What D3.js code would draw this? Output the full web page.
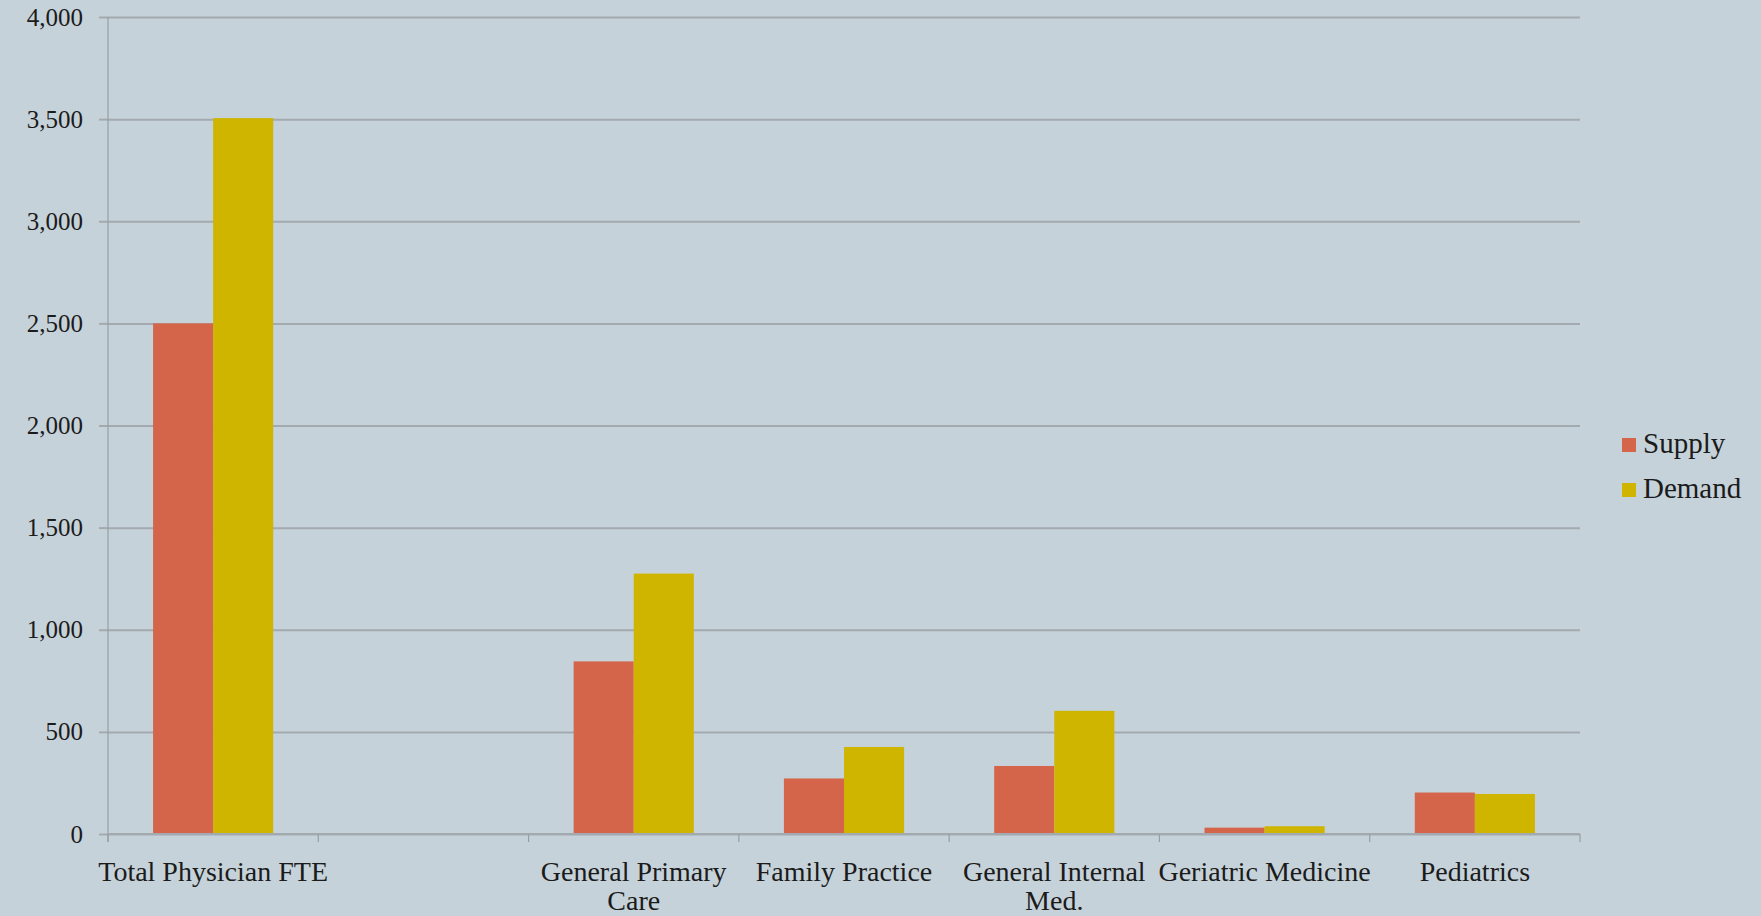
<!DOCTYPE html>
<html>
<head>
<meta charset="utf-8">
<script src="https://cdn.jsdelivr.net/npm/d3@7"></script>
<style>
  html, body { margin: 0; padding: 0; background: #C6D2D9; }
  svg { display: block; }
  text { font-family: "Liberation Serif", "Times New Roman", serif; fill: #1b1b1b; }
</style>
</head>
<body>
<svg id="chart" width="1761" height="916"></svg>
<script>
const categories = ["Total Physician FTE", "", "General Primary Care", "Family Practice", "General Internal Med.", "Geriatric Medicine", "Pediatrics"];
const labelLines = [["Total Physician FTE"], [""], ["General Primary", "Care"], ["Family Practice"], ["General Internal", "Med."], ["Geriatric Medicine"], ["Pediatrics"]];
const seriesNames = ["Supply", "Demand"];
const supply = [2500, 0, 845, 272, 333, 31, 203];
const demand = [3505, 0, 1275, 426, 603, 38, 196];
const yTicks = [0, 500, 1000, 1500, 2000, 2500, 3000, 3500, 4000];
const colors = ["#D4654A", "#CFB500"];

(function () {
const svg = d3.select("#chart");
const pLeft = 108, pRight = 1580, pTop = 17, pBottom = 834;

const x = d3.scaleBand().domain(categories).range([pLeft, pRight]).paddingInner(0).paddingOuter(0);
const xInner = d3.scaleBand().domain(seriesNames).range([0, x.bandwidth()]).paddingInner(0).paddingOuter(0.75);
const y = d3.scaleLinear().domain([0, 4000]).range([pBottom, pTop]);

// gridlines
const grid = svg.append("g").attr("transform", `translate(${pLeft},0)`)
  .call(d3.axisLeft(y).tickValues(yTicks).tickSize(-(pRight - pLeft)).tickFormat(""));
grid.select(".domain").remove();
grid.selectAll(".tick line").attr("stroke", "#A3AAAF").attr("stroke-width", 2);

// y axis
const yAxis = svg.append("g").attr("transform", `translate(${pLeft},0)`)
  .call(d3.axisLeft(y).tickValues(yTicks).tickSizeInner(9).tickSizeOuter(0).tickPadding(16).tickFormat(d3.format(",")));
yAxis.select(".domain").remove();
yAxis.selectAll(".tick line").attr("stroke", "#A3AAAF").attr("stroke-width", 2);
yAxis.selectAll(".tick text").attr("font-size", 25).attr("font-family", "Liberation Serif, serif").attr("fill", "#1b1b1b");
svg.append("line").attr("x1", pLeft).attr("x2", pLeft).attr("y1", pTop).attr("y2", pBottom + 8)
  .attr("stroke", "#979EA3").attr("stroke-width", 1.2);

// bars
const rows = categories.map((c, i) => ({c, vals: [supply[i], demand[i]]}));
const groups = svg.append("g").selectAll("g").data(rows).join("g")
  .attr("transform", d => `translate(${x(d.c)},0)`);
groups.selectAll("rect").data(d => d.vals.map((v, j) => ({name: seriesNames[j], v, j}))).join("rect")
  .attr("x", d => xInner(d.name))
  .attr("width", xInner.bandwidth())
  .attr("y", d => y(d.v))
  .attr("height", d => y(0) - y(d.v))
  .attr("fill", d => colors[d.j]);

// x axis baseline and ticks
svg.append("line").attr("x1", pLeft).attr("x2", pRight).attr("y1", pBottom).attr("y2", pBottom)
  .attr("stroke", "#A3AAAF").attr("stroke-width", 2);
const boundaries = categories.map(c => x(c)).concat([x(categories[categories.length - 1]) + x.bandwidth()]);
svg.append("g").selectAll("line").data(boundaries).join("line")
  .attr("x1", d => d).attr("x2", d => d).attr("y1", pBottom).attr("y2", pBottom + 8)
  .attr("stroke", "#979EA3").attr("stroke-width", 1.2);

// x labels
const xl = svg.append("g").selectAll("text").data(categories.map((c, i) => ({c, lines: labelLines[i]}))).join("text")
  .attr("x", d => x(d.c) + x.bandwidth() / 2)
  .attr("y", 881)
  .attr("text-anchor", "middle")
  .attr("font-size", 28);
xl.selectAll("tspan").data(d => d.lines.map(l => ({l, x: x(d.c) + x.bandwidth() / 2}))).join("tspan")
  .attr("x", d => d.x)
  .attr("dy", (d, i) => i === 0 ? 0 : 29)
  .text(d => d.l);

// legend
const legend = svg.append("g").attr("transform", "translate(1622,0)");
const ly = [453, 498];
seriesNames.forEach((n, i) => {
  legend.append("rect").attr("x", 0).attr("y", ly[i] - 15).attr("width", 14).attr("height", 14).attr("fill", colors[i]);
  legend.append("text").attr("x", 21).attr("y", ly[i]).attr("font-size", 29).text(n);
});
})();
</script>
</body>
</html>
